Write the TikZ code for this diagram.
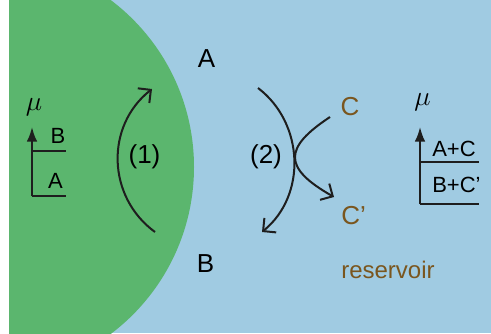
\documentclass[tikz,border=0pt]{standalone}
\usepackage{fontspec}
\setmainfont{Liberation Sans}
\usetikzlibrary{arrows.meta}
\definecolor{cellgreen}{RGB}{91,182,110}
\definecolor{bathblue}{RGB}{160,203,226}
\definecolor{resbrown}{RGB}{122,86,30}
\definecolor{inkgray}{RGB}{30,30,30}

\begin{document}
\begin{tikzpicture}[
  x=0.75pt, y=-0.75pt,
  lbl/.style={inner sep=0pt, font=\fontsize{19.5}{20}\selectfont},
  small/.style={inner sep=0pt, font=\fontsize{16.5}{17}\selectfont},
  chem/.style={lbl, text=resbrown},
  mulbl/.style={inner sep=0pt, font=\fontsize{22}{22}\selectfont},
  swap/.style={-{Straight Barb[length=7pt,width=14pt]}, line width=1.5pt, inkgray},
  axis/.style={-{Latex[length=11pt,width=8pt]}, line width=1.5pt, inkgray},
  level/.style={line width=1.5pt, inkgray}
]
\useasboundingbox (0,0) rectangle (491,333);
% reservoir and cell
\fill[bathblue] (9,0) rectangle (491,333);
\begin{scope}
  \clip (9,0) rectangle (491,333);
  \fill[cellgreen] (-15,167) circle[radius=156.75pt];
\end{scope}

% labels
\node[lbl] (A) at (206.5,59) {A};
\node[lbl] (B) at (205.5,263.5) {B};
\node[lbl] (one) at (144.5,156.5) {(1)};
\node[lbl] (two) at (266,156.5) {(2)};
\node[chem] (C) at (350,106.5) {C};
\node[chem, anchor=base west] (Cp) at (341,224) {C'};
\node[chem, font=\fontsize{18}{18}\selectfont, anchor=base west] (res) at (341,278) {reservoir};

% process arrows
\coordinate (r1s) at (155,232);
\coordinate (r1e) at (152,89);
\draw[swap] (r1s) .. controls (107,197) and (105,126) .. (r1e);
\coordinate (r2s) at (258,88);
\coordinate (r2e) at (262,232);
\draw[swap] (r2s) .. controls (304,123) and (307,195) .. (r2e);
\coordinate (cs) at (330,117);
\coordinate (ce) at (334,197);
\draw[swap] (cs) .. controls (283,148) and (283,168) .. (ce);

% chemical potential, cell
\node[mulbl] (muL) at (34,107) {$\mu$};
\coordinate (L0) at (32,196);
\coordinate (Ltop) at (32,127);
\coordinate (LA) at (66,196);
\coordinate (LB0) at (32,151);
\coordinate (LB) at (66,151);
\draw[axis] (L0) -- (Ltop);
\draw[level] (L0) -- (LA);
\draw[level] (LB0) -- (LB);
\node[small] (LBl) at (58,135.5) {B};
\node[small] (LAl) at (55.5,180.5) {A};

% chemical potential, reservoir
\node[mulbl] (muR) at (422.5,102.5) {$\mu$};
\coordinate (R0) at (420,204);
\coordinate (Rtop) at (420,127);
\coordinate (RBC) at (479,204);
\coordinate (RAC0) at (420,162);
\coordinate (RAC) at (479,162);
\draw[axis] (R0) -- (Rtop);
\draw[level] (R0) -- (RBC);
\draw[level] (RAC0) -- (RAC);
\node[small, anchor=west] (RACl) at (432,149) {A+C};
\node[small, anchor=west] (RBCl) at (432,185.3) {B+C'};
\end{tikzpicture}
\end{document}
